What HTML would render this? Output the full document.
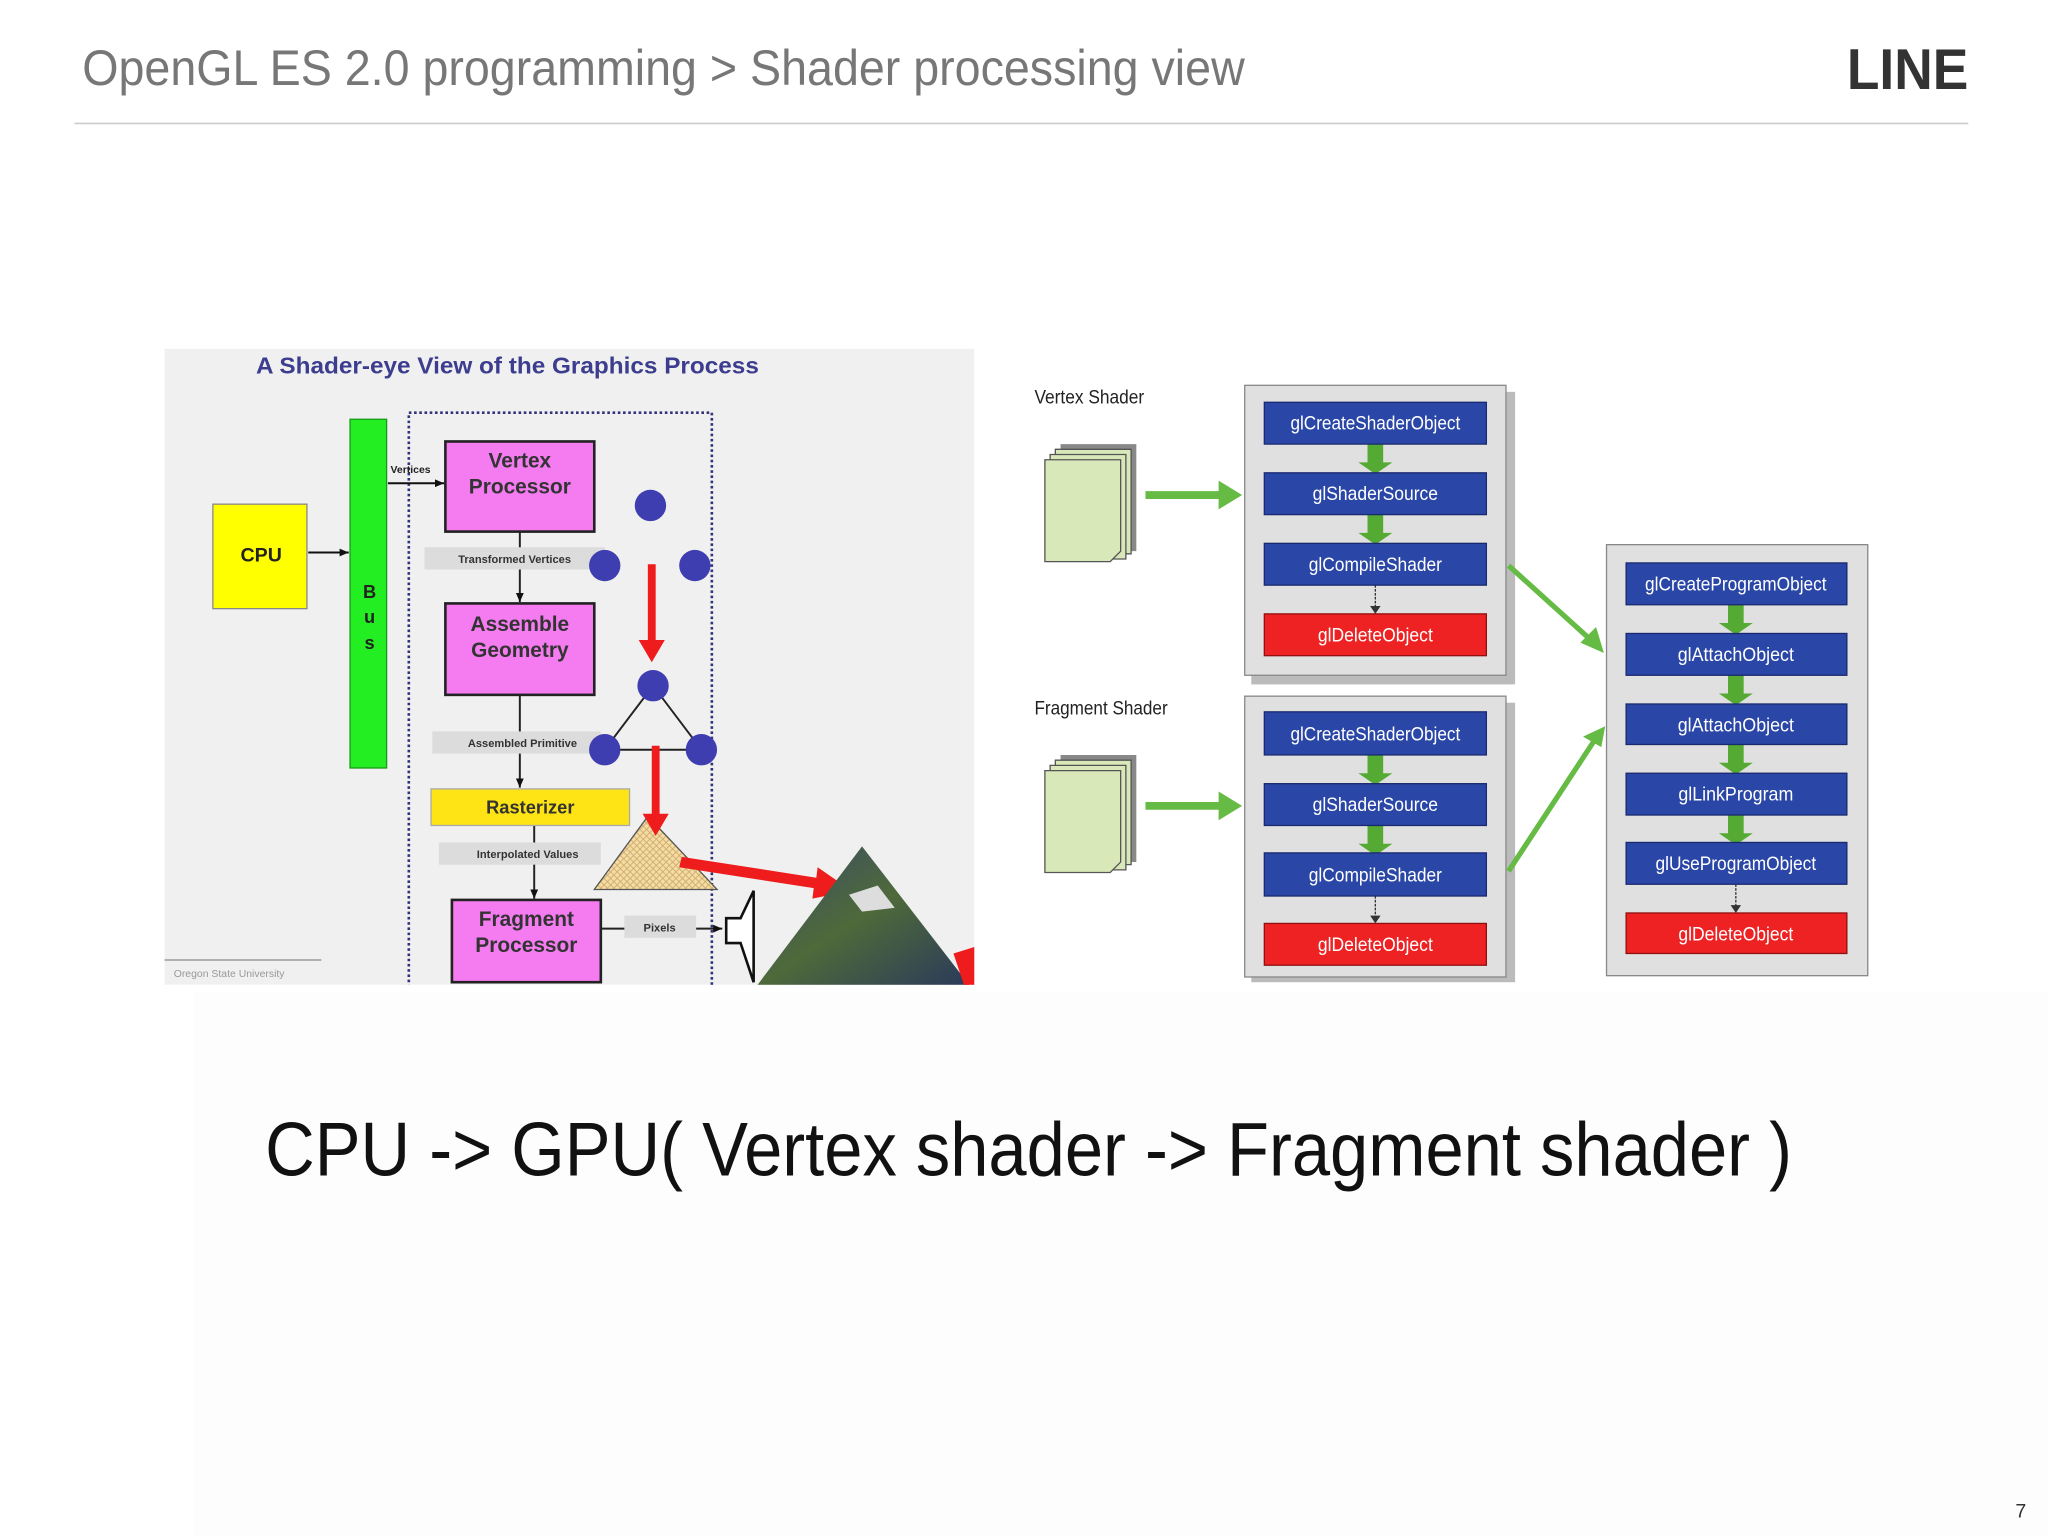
<!DOCTYPE html>
<html><head><meta charset="utf-8"><style>
html,body{margin:0;padding:0;background:#fff;width:2048px;height:1536px;overflow:hidden}
svg{display:block}
.n{font-family:"Liberation Sans Narrow","Liberation Sans",sans-serif}
.b{font-family:"Liberation Sans",sans-serif;font-weight:bold}
</style></head><body>
<svg width="2048" height="1536" viewBox="0 0 1568 1176" xmlns="http://www.w3.org/2000/svg">
<defs>
<marker id="ak" markerWidth="8" markerHeight="8" refX="7" refY="4" orient="auto" markerUnits="userSpaceOnUse"><path d="M0,1 L7,4 L0,7z" fill="#111"/></marker>
<pattern id="hat" width="5" height="5" patternUnits="userSpaceOnUse"><rect width="5" height="5" fill="#f6dca0"/><path d="M0,0L5,5M5,0L0,5" stroke="#c8a870" stroke-width="0.6"/></pattern>
<linearGradient id="earth" x1="0" y1="0" x2="1" y2="1"><stop offset="0" stop-color="#3a4a6a"/><stop offset="0.5" stop-color="#4e6a3a"/><stop offset="1" stop-color="#2a3a5a"/></linearGradient>
<clipPath id="lc"><rect x="126" y="267" width="620" height="487"/></clipPath>
</defs>
<rect width="1568" height="1176" fill="#fff"/>
<rect x="148" y="760" width="1420" height="416" fill="#fdfdfd"/>
<!-- header -->
<text x="63" y="65" class="n" font-size="38" fill="#777" textLength="890" lengthAdjust="spacingAndGlyphs">OpenGL ES 2.0 programming &gt; Shader processing view</text>
<text x="1414" y="68" class="b" font-size="44" fill="#333" textLength="93" lengthAdjust="spacingAndGlyphs">LINE</text>
<line x1="57" y1="94.5" x2="1507" y2="94.5" stroke="#ccc" stroke-width="1.2"/>

<!-- left image -->
<g clip-path="url(#lc)">
<rect x="126" y="267" width="620" height="487" fill="#f0f0f0"/>
<text x="196" y="286" class="b" font-size="18" fill="#3d3d8f" textLength="385" lengthAdjust="spacingAndGlyphs">A Shader-eye View of the Graphics Process</text>
<rect x="268" y="321" width="28" height="267" fill="#22ee22" stroke="#1a9a1a"/>
<text x="283" y="458" class="b" font-size="14" text-anchor="middle" fill="#222">B</text>
<text x="283" y="477" class="b" font-size="14" text-anchor="middle" fill="#222">u</text>
<text x="283" y="497" class="b" font-size="14" text-anchor="middle" fill="#222">s</text>
<rect x="163" y="386" width="72" height="80" fill="#ffff00" stroke="#888"/>
<text x="200" y="430" class="b" font-size="15" text-anchor="middle" fill="#222">CPU</text>
<line x1="236" y1="423" x2="267" y2="423" stroke="#111" stroke-width="1.5" marker-end="url(#ak)"/>
<rect x="313" y="316" width="232" height="460" fill="none" stroke="#33337a" stroke-width="2" stroke-dasharray="2,2"/>
<line x1="297" y1="370" x2="340" y2="370" stroke="#111" stroke-width="1.5" marker-end="url(#ak)"/>
<text x="299" y="362" class="b" font-size="8" fill="#222">Vertices</text>
<g stroke="#222" stroke-width="1.5">
<line x1="398" y1="407" x2="398" y2="461" marker-end="url(#ak)"/>
<line x1="398" y1="532" x2="398" y2="603" marker-end="url(#ak)"/>
<line x1="409" y1="632" x2="409" y2="688" marker-end="url(#ak)"/>
<line x1="460" y1="711" x2="553" y2="711" marker-end="url(#ak)"/>
</g>
<rect x="341" y="338" width="114" height="69" fill="#f57cf0" stroke="#222" stroke-width="2"/>
<text x="398" y="358" class="b" font-size="16" text-anchor="middle" fill="#333">Vertex</text>
<text x="398" y="378" class="b" font-size="16" text-anchor="middle" fill="#333">Processor</text>
<rect x="325" y="419" width="138" height="17" fill="#dcdcdc"/>
<text x="394" y="431" class="b" font-size="8.5" text-anchor="middle" fill="#333">Transformed Vertices</text>
<rect x="341" y="462" width="114" height="70" fill="#f57cf0" stroke="#222" stroke-width="2"/>
<text x="398" y="483" class="b" font-size="16" text-anchor="middle" fill="#333">Assemble</text>
<text x="398" y="503" class="b" font-size="16" text-anchor="middle" fill="#333">Geometry</text>
<rect x="331" y="560" width="129" height="17" fill="#dcdcdc"/>
<text x="400" y="572" class="b" font-size="8.5" text-anchor="middle" fill="#333">Assembled Primitive</text>
<rect x="330" y="604" width="152" height="28" fill="#ffe415" stroke="#aaa"/>
<text x="406" y="623" class="b" font-size="14" text-anchor="middle" fill="#333">Rasterizer</text>
<rect x="336" y="645" width="124" height="17" fill="#dcdcdc"/>
<text x="404" y="657" class="b" font-size="8.5" text-anchor="middle" fill="#333">Interpolated Values</text>
<rect x="346" y="689" width="114" height="63" fill="#f57cf0" stroke="#222" stroke-width="2"/>
<text x="403" y="709" class="b" font-size="16" text-anchor="middle" fill="#333">Fragment</text>
<text x="403" y="729" class="b" font-size="16" text-anchor="middle" fill="#333">Processor</text>
<rect x="478" y="701" width="55" height="17" fill="#dcdcdc"/>
<text x="505" y="713" class="b" font-size="8.5" text-anchor="middle" fill="#333">Pixels</text>
<path d="M463,574 L500,525 L537,574 Z" fill="none" stroke="#222" stroke-width="1.5"/>
<g fill="#3e3eb0">
<circle cx="498" cy="387" r="12"/><circle cx="463" cy="433" r="12"/><circle cx="532" cy="433" r="12"/>
<circle cx="500" cy="525" r="12"/><circle cx="463" cy="574" r="12"/><circle cx="537" cy="574" r="12"/>
</g>
<path d="M455,681 L496,625 L549,681 Z" fill="url(#hat)" stroke="#555"/>
<g fill="#ee1c1c">
<path d="M496,432h6v58h7l-10,17l-10,-17h7z"/>
<path d="M499,571h6v52h7l-10,17l-10,-17h7z"/>
<path d="M522,656 L625,672 L626,664 L652,682 L622,688 L623,680 L520,664 Z"/>
</g>
<path d="M580,754 L660,648 L742,754 Z" fill="url(#earth)"/>
<path d="M650,685 L672,678 L685,695 L660,698 Z" fill="#ddd"/>
<path d="M730,730 L746,725 L746,754 L738,754 Z" fill="#ee1c1c"/>
<path d="M556,703 L567,703 L577,682 L577,752 L567,722 L556,722 Z" fill="#fff" stroke="#111" stroke-width="2"/>
<line x1="126" y1="735" x2="246" y2="735" stroke="#888"/>
<text x="133" y="748" font-family="Liberation Sans,sans-serif" font-size="8" fill="#999">Oregon State University</text>
</g>

<!-- right diagram -->
<text x="792" y="309" class="n" font-size="15" fill="#222" textLength="84" lengthAdjust="spacingAndGlyphs">Vertex Shader</text>
<text x="792" y="547" class="n" font-size="15" fill="#222" textLength="102" lengthAdjust="spacingAndGlyphs">Fragment Shader</text>
<g>
<rect x="958" y="300" width="202" height="224" fill="#bbb"/>
<rect x="953" y="295" width="200" height="222" fill="#e0e0e0" stroke="#888"/>
<rect x="958" y="538" width="202" height="214" fill="#bbb"/>
<rect x="953" y="533" width="200" height="215" fill="#e0e0e0" stroke="#888"/>
<rect x="1230" y="417" width="200" height="330" fill="#e0e0e0" stroke="#888"/>
</g>
<g>
<path d="M812,340h58v82h-58z" fill="#888"/>
<path d="M808,344h58v80h-58z" fill="#d8e8b8" stroke="#555"/>
<path d="M804,348h58v80h-58z" fill="#d8e8b8" stroke="#555"/>
<path d="M800,352h58v70l-8,8h-50z" fill="#d8e8b8" stroke="#555"/>
</g>
<g transform="translate(0,238)">
<path d="M812,340h58v82h-58z" fill="#888"/>
<path d="M808,344h58v80h-58z" fill="#d8e8b8" stroke="#555"/>
<path d="M804,348h58v80h-58z" fill="#d8e8b8" stroke="#555"/>
<path d="M800,352h58v70l-8,8h-50z" fill="#d8e8b8" stroke="#555"/>
</g>
<g fill="#66bb44">
<path d="M877,376h56v-8l18,11l-18,11v-8h-56z"/>
<path d="M877,614h56v-8l18,11l-18,11v-8h-56z"/>
</g>
<g stroke="#66bb44" stroke-width="4">
<line x1="1155" y1="433" x2="1218" y2="490"/>
<line x1="1155" y1="667" x2="1220" y2="568"/>
</g>
<path d="M1228,500 L1210,492 L1222,480 Z" fill="#66bb44"/>
<path d="M1229,556 L1212,564 L1226,572 Z" fill="#66bb44"/>
<g fill="#55aa33">
<path d="M1047,340h12v14h7l-13,9l-13,-9h7z"/>
<path d="M1047,394h12v14h7l-13,9l-13,-9h7z"/>
<path d="M1047,578h12v14h7l-13,9l-13,-9h7z"/>
<path d="M1047,632h12v14h7l-13,9l-13,-9h7z"/>
<path d="M1323,463h12v14h7l-13,9l-13,-9h7z"/>
<path d="M1323,517h12v14h7l-13,9l-13,-9h7z"/>
<path d="M1323,570h12v14h7l-13,9l-13,-9h7z"/>
<path d="M1323,624h12v14h7l-13,9l-13,-9h7z"/>
</g>
<g stroke="#333" stroke-width="1" stroke-dasharray="2,1">
<line x1="1053" y1="448" x2="1053" y2="466"/><line x1="1053" y1="686" x2="1053" y2="703"/><line x1="1329" y1="677" x2="1329" y2="695"/>
</g>
<g fill="#333"><path d="M1049,464h8l-4,6z"/><path d="M1049,701h8l-4,6z"/><path d="M1325,693h8l-4,6z"/></g>
<g class="n" font-size="15" fill="#fff" text-anchor="middle" lengthAdjust="spacingAndGlyphs">
<rect x="968" y="308" width="170" height="32" fill="#2a46a6" stroke="#1a2a70"/><text x="1053" y="329" textLength="130" lengthAdjust="spacingAndGlyphs">glCreateShaderObject</text>
<rect x="968" y="362" width="170" height="32" fill="#2a46a6" stroke="#1a2a70"/><text x="1053" y="383" textLength="96" lengthAdjust="spacingAndGlyphs">glShaderSource</text>
<rect x="968" y="416" width="170" height="32" fill="#2a46a6" stroke="#1a2a70"/><text x="1053" y="437" textLength="102" lengthAdjust="spacingAndGlyphs">glCompileShader</text>
<rect x="968" y="470" width="170" height="32" fill="#ee2222" stroke="#901010"/><text x="1053" y="491" textLength="88" lengthAdjust="spacingAndGlyphs">glDeleteObject</text>
<rect x="968" y="545" width="170" height="33" fill="#2a46a6" stroke="#1a2a70"/><text x="1053" y="567" textLength="130" lengthAdjust="spacingAndGlyphs">glCreateShaderObject</text>
<rect x="968" y="600" width="170" height="32" fill="#2a46a6" stroke="#1a2a70"/><text x="1053" y="621" textLength="96" lengthAdjust="spacingAndGlyphs">glShaderSource</text>
<rect x="968" y="653" width="170" height="33" fill="#2a46a6" stroke="#1a2a70"/><text x="1053" y="675" textLength="102" lengthAdjust="spacingAndGlyphs">glCompileShader</text>
<rect x="968" y="707" width="170" height="32" fill="#ee2222" stroke="#901010"/><text x="1053" y="728" textLength="88" lengthAdjust="spacingAndGlyphs">glDeleteObject</text>
<rect x="1245" y="431" width="169" height="32" fill="#2a46a6" stroke="#1a2a70"/><text x="1329" y="452" textLength="139" lengthAdjust="spacingAndGlyphs">glCreateProgramObject</text>
<rect x="1245" y="485" width="169" height="32" fill="#2a46a6" stroke="#1a2a70"/><text x="1329" y="506" textLength="89" lengthAdjust="spacingAndGlyphs">glAttachObject</text>
<rect x="1245" y="539" width="169" height="31" fill="#2a46a6" stroke="#1a2a70"/><text x="1329" y="560" textLength="89" lengthAdjust="spacingAndGlyphs">glAttachObject</text>
<rect x="1245" y="592" width="169" height="32" fill="#2a46a6" stroke="#1a2a70"/><text x="1329" y="613" textLength="88" lengthAdjust="spacingAndGlyphs">glLinkProgram</text>
<rect x="1245" y="645" width="169" height="32" fill="#2a46a6" stroke="#1a2a70"/><text x="1329" y="666" textLength="123" lengthAdjust="spacingAndGlyphs">glUseProgramObject</text>
<rect x="1245" y="699" width="169" height="31" fill="#ee2222" stroke="#901010"/><text x="1329" y="720" textLength="88" lengthAdjust="spacingAndGlyphs">glDeleteObject</text>
</g>

<text x="203" y="900" class="n" font-size="58" fill="#111" textLength="1169" lengthAdjust="spacingAndGlyphs">CPU -&gt; GPU( Vertex shader -&gt; Fragment shader )</text>
<text x="1543" y="1162" font-family="Liberation Sans,sans-serif" font-size="15" fill="#333">7</text>
</svg>
</body></html>
